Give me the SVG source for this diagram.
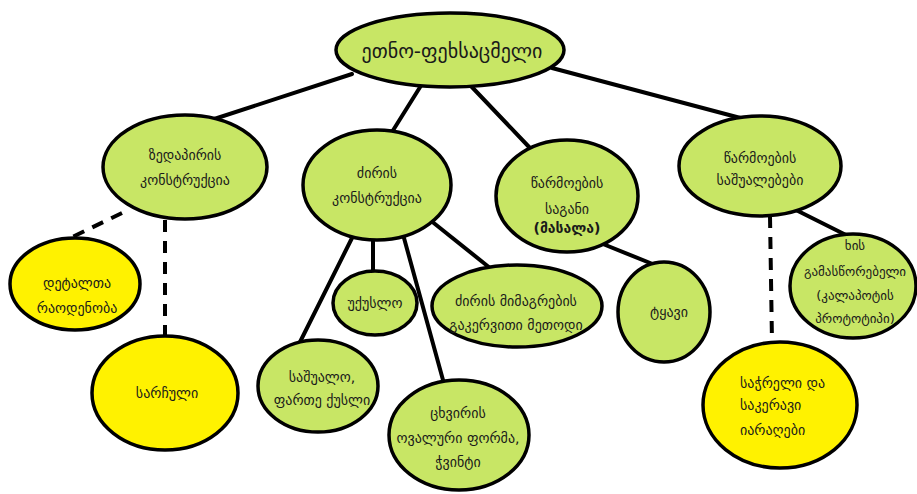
<svg xmlns="http://www.w3.org/2000/svg" width="917" height="494" viewBox="0 0 917 494">
<style>
.n ellipse{stroke:#000;stroke-width:3.5}
.g{fill:#c8e665}
.y{fill:#fff200}
text{font-family:"DejaVu Sans","Noto Sans",sans-serif;font-size:14px;fill:#1a1a1a;text-anchor:middle}
.c line{stroke:#000;stroke-width:4;stroke-linecap:round}
.c .d{stroke-dasharray:12 9;stroke-linecap:butt}
</style>
<rect width="917" height="494" fill="#fff"/>
<g class="c" id="connectors">
<line x1="352" y1="74" x2="205" y2="122"/>
<line x1="422" y1="84" x2="392" y2="132"/>
<line x1="470" y1="85" x2="530" y2="148"/>
<line x1="552" y1="68" x2="748" y2="120"/>
<line class="d" x1="122" y1="213" x2="60" y2="243"/>
<line class="d" x1="165" y1="220" x2="165" y2="338"/>
<line x1="352" y1="238" x2="300" y2="342"/>
<line x1="373" y1="238" x2="373" y2="272"/>
<line x1="404" y1="238" x2="443" y2="380"/>
<line x1="430" y1="220" x2="490" y2="268"/>
<line x1="598" y1="242" x2="660" y2="267"/>
<line x1="796" y1="210" x2="848" y2="236"/>
<line class="d" x1="770" y1="216" x2="772" y2="342"/>
</g>
<g class="n" id="root"><ellipse class="g" cx="450" cy="50" rx="114" ry="37"/><text x="452" y="58" style="font-size:20px">ეთნო-ფეხსაცმელი</text></g>
<g class="n" id="zedapiri"><ellipse class="g" cx="185" cy="167" rx="82" ry="52"/><text x="185" y="160">ზედაპირის</text><text x="185" y="185">კონსტრუქცია</text></g>
<g class="n" id="dziri"><ellipse class="g" cx="377" cy="185" rx="74" ry="55"/><text x="377" y="178">ძირის</text><text x="377" y="203">კონსტრუქცია</text></g>
<g class="n" id="sagani"><ellipse class="g" cx="567" cy="196" rx="71" ry="56"/><text x="567" y="188">წარმოების</text><text x="567" y="214">საგანი</text><text x="567" y="233" style="font-weight:bold">(მასალა)</text></g>
<g class="n" id="sashualebebi"><ellipse class="g" cx="760" cy="166" rx="81" ry="50"/><text x="760" y="163">წარმოების</text><text x="760" y="185">საშუალებები</text></g>
<g class="n" id="detalta"><ellipse class="y" cx="75" cy="284" rx="65" ry="46"/><text x="77" y="288">დეტალთა</text><text x="77" y="313">რაოდენობა</text></g>
<g class="n" id="sarchuli"><ellipse class="y" cx="165" cy="393" rx="73" ry="57"/><text x="167" y="398">სარჩული</text></g>
<g class="n" id="ukuslo"><ellipse class="g" cx="375" cy="303" rx="42" ry="32"/><text x="375" y="308">უქუსლო</text></g>
<g class="n" id="mimagreba"><ellipse class="g" cx="517" cy="306" rx="85" ry="41"/><text x="516" y="306">ძირის მიმაგრების</text><text x="516" y="330">გაკერვითი მეთოდი</text></g>
<g class="n" id="tyavi"><ellipse class="g" cx="664" cy="312" rx="46" ry="50"/><text x="669" y="317">ტყავი</text></g>
<g class="n" id="sashualo"><ellipse class="g" cx="318" cy="386" rx="60" ry="46"/><text x="322" y="382">საშუალო,</text><text x="322" y="405">ფართე ქუსლი</text></g>
<g class="n" id="cxviri"><ellipse class="g" cx="459" cy="435" rx="70" ry="55"/><text x="458" y="418">ცხვირის</text><text x="458" y="443">ოვალური ფორმა,</text><text x="458" y="467">ჭვინტი</text></g>
<g class="n" id="xis"><ellipse class="g" cx="853" cy="286" rx="63" ry="52"/><text x="855" y="250" style="font-size:13px">ხის</text><text x="855" y="276" style="font-size:13px">გამასწორებელი</text><text x="855" y="300" style="font-size:13px">(კალაპოტის</text><text x="855" y="323" style="font-size:13px">პროტოტიპი)</text></g>
<g class="n" id="sachreli"><ellipse class="y" cx="780" cy="405" rx="77" ry="63"/><text x="740" y="388" style="text-anchor:start">საჭრელი და</text><text x="740" y="410" style="text-anchor:start">საკერავი</text><text x="740" y="435" style="text-anchor:start">იარაღები</text></g>
</svg>
